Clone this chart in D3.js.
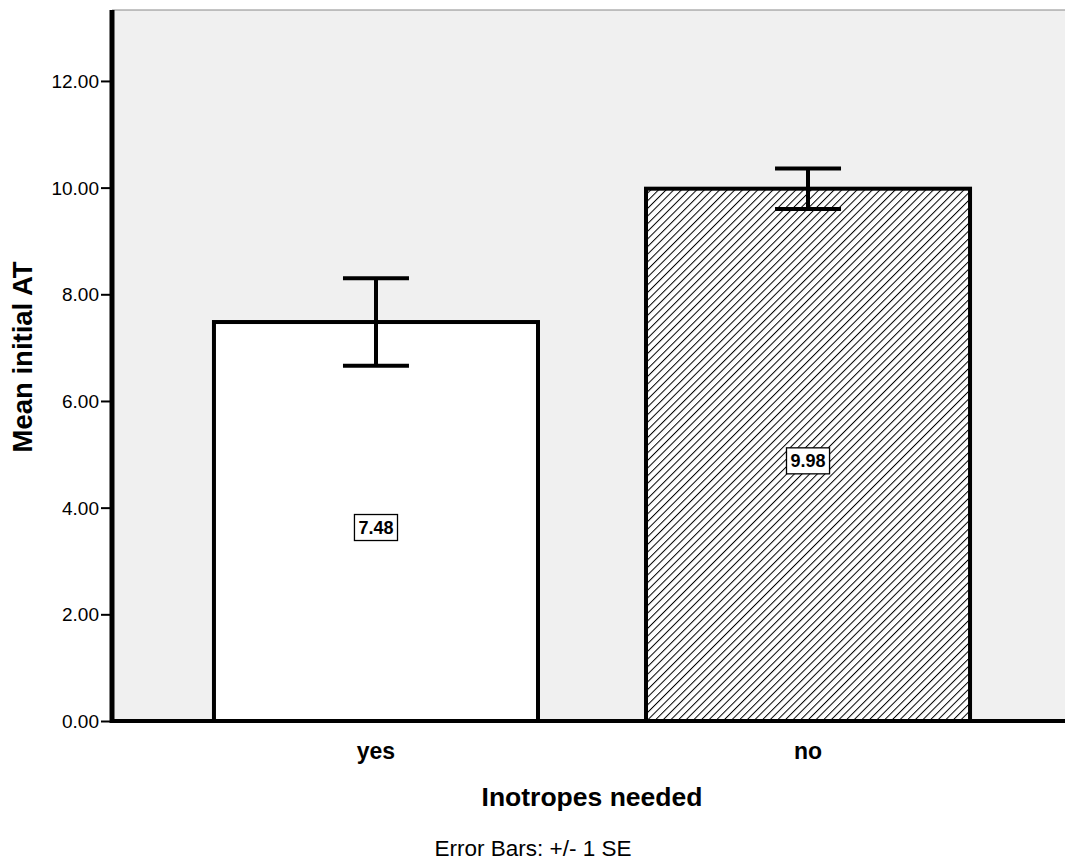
<!DOCTYPE html>
<html><head><meta charset="utf-8">
<script src="https://cdn.jsdelivr.net/npm/d3@7"></script>
<style>body{margin:0;background:#fff;} text{font-family:"Liberation Sans",Arial,sans-serif;}</style>
</head><body>
<svg id="c" width="1065" height="863"></svg>
<script>
const categories = ["yes", "no"];
const means = [7.48, 9.98];
const seValues = [0.82, 0.38];
const yTicks = [0, 2, 4, 6, 8, 10, 12];
const fills = ["white", "hatch"];

(function () {
const svg = d3.select("#c");
const pL = 112, pR = 1072, pT = 10, pB = 721;
const x = d3.scaleBand().domain(categories).range([pL, pR]).paddingInner(0.25).paddingOuter(0.236);
const y = d3.scaleLinear().domain([0, 13.33]).range([pB, pT]);

const defs = svg.append("defs");
const pat = defs.append("pattern").attr("id", "hatch").attr("patternUnits", "userSpaceOnUse")
  .attr("width", 5.4).attr("height", 5.4).attr("patternTransform", "rotate(45)");
pat.append("rect").attr("width", 5.4).attr("height", 5.4).attr("fill", "white");
pat.append("line").attr("x1", 0).attr("y1", 0).attr("x2", 0).attr("y2", 5.4).attr("stroke", "black").attr("stroke-width", 2);

svg.append("rect").attr("x", pL).attr("y", pT).attr("width", 1065 - pL).attr("height", pB - pT).attr("fill", "#f0f0f0");
svg.append("line").attr("x1", pL).attr("x2", 1065).attr("y1", pT).attr("y2", pT).attr("stroke", "#888").attr("stroke-width", 1);

const bw = x.bandwidth();
svg.selectAll(".bar").data(categories).join("rect")
  .attr("x", d => x(d)).attr("width", bw)
  .attr("y", (d, i) => y(means[i])).attr("height", (d, i) => pB - y(means[i]))
  .attr("fill", (d, i) => fills[i] === "hatch" ? "url(#hatch)" : "white")
  .attr("stroke", "black").attr("stroke-width", 4);

const cx = d => x(d) + bw / 2;
const eb = svg.append("g");
categories.forEach((c, i) => {
  const hi = y(means[i] + seValues[i]), lo = y(means[i] - seValues[i]);
  eb.append("line").attr("x1", cx(c)).attr("x2", cx(c)).attr("y1", hi).attr("y2", lo).attr("stroke", "black").attr("stroke-width", 4);
  [hi, lo].forEach(v => eb.append("line").attr("x1", cx(c) - 33).attr("x2", cx(c) + 33).attr("y1", v).attr("y2", v).attr("stroke", "black").attr("stroke-width", 4));
});

categories.forEach((c, i) => {
  const ly = y(means[i] / 2) + 6;
  const g = svg.append("g");
  const t = g.append("text").attr("x", cx(c)).attr("y", ly).attr("text-anchor", "middle").attr("dominant-baseline", "central")
    .attr("font-size", 18).attr("font-weight", "bold").text(means[i].toFixed(2));
  const bb = t.node().getBBox();
  g.insert("rect", "text").attr("x", bb.x - 4).attr("y", ly - 13).attr("width", bb.width + 8).attr("height", 26)
    .attr("fill", "white").attr("stroke", "black").attr("stroke-width", 1.3);
});

const yAxis = svg.append("g").attr("transform", `translate(${pL},0)`)
  .call(d3.axisLeft(y).tickValues(yTicks).tickFormat(d3.format(".2f")).tickSize(11).tickPadding(2));
yAxis.select(".domain").remove();
yAxis.selectAll(".tick line").attr("stroke-width", 2);
yAxis.selectAll("text").attr("font-size", 19).attr("fill", "black").attr("dy", "0.34em").style("font-family", "Liberation Sans, Arial, sans-serif");
svg.append("line").attr("x1", pL).attr("x2", pL).attr("y1", pT).attr("y2", pB + 2).attr("stroke", "black").attr("stroke-width", 5);
svg.append("line").attr("x1", pL - 2).attr("x2", 1065).attr("y1", pB).attr("y2", pB).attr("stroke", "black").attr("stroke-width", 4);

svg.selectAll(".xl").data(categories).join("text")
  .attr("x", d => cx(d)).attr("y", 759).attr("text-anchor", "middle")
  .attr("font-size", 23).attr("font-weight", "bold").text(d => d);

svg.append("text").attr("x", (cx(categories[0]) + cx(categories[1])) / 2).attr("y", 806).attr("text-anchor", "middle")
  .attr("font-size", 26.5).attr("font-weight", "bold").text("Inotropes needed");
svg.append("text").attr("transform", `translate(32,357) rotate(-90)`).attr("text-anchor", "middle")
  .attr("font-size", 27.5).attr("font-weight", "bold").text("Mean initial AT");
svg.append("text").attr("x", 533).attr("y", 856).attr("text-anchor", "middle")
  .attr("font-size", 22.5).text("Error Bars: +/- 1 SE");
})();
</script>
</body></html>
